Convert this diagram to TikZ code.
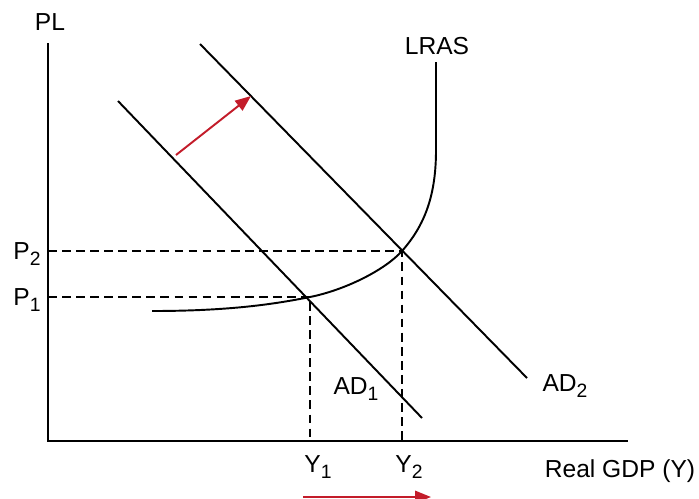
\documentclass[tikz,border=0pt]{standalone}
\usepackage{fontspec}
\setmainfont{Liberation Sans}
\usetikzlibrary{arrows.meta}
\definecolor{shiftred}{RGB}{195,28,42}
\newcommand{\lowidx}[1]{\raisebox{-0.45ex}{\fontsize{11}{12}\selectfont #1}}
\begin{document}
\begin{tikzpicture}[x=0.02cm, y=-0.02cm, every node/.style={font=\fontsize{14}{16}\selectfont, inner sep=0pt},
  axis/.style={line width=1.1pt},
  curve/.style={line width=1.1pt},
  guide/.style={line width=0.6pt, dash pattern=on 5pt off 3pt},
  shiftarrow/.style={shiftred, line width=1.1pt, -{Triangle[length=9pt, width=7pt]}}]
\useasboundingbox (0,0) rectangle (699,498);
% axes
\coordinate (o) at (48,441);
\coordinate (ytop) at (48,43);
\coordinate (xend) at (628,441);
\draw[axis] (ytop) -- (o) -- (xend);
\node (pl) at (50,22) {PL};
\node (gdp) at (620,471) {Real GDP (Y)};
% equilibria
\coordinate (e1) at (310,297);
\coordinate (e2) at (402,251);
\draw[guide] (o |- e1) -- (e1) -- (e1 |- o);
\draw[guide] (o |- e2) -- (e2) -- (e2 |- o);
\node (p1) at (27,300) {P\lowidx{1}};
\node (p2) at (27,254) {P\lowidx{2}};
\node (y1) at (318,467) {Y\lowidx{1}};
\node (y2) at (409,467) {Y\lowidx{2}};
% LRAS
\draw[curve] (152,311) .. controls (230,311) and (275,304) .. (e1)
  .. controls (345,290) and (385,270) .. (e2)
  .. controls (425,225) and (436,195) .. (436,150) -- (436,62);
\node (lras) at (437,46) {LRAS};
% AD curves
\coordinate (ad1a) at (118,101);
\coordinate (ad1b) at (422,418);
\coordinate (ad2a) at (200,44);
\coordinate (ad2b) at (527,378);
\draw[curve] (ad1a) -- (ad1b);
\draw[curve] (ad2a) -- (ad2b);
\node (ad1) at (356,389) {AD\lowidx{1}};
\node (ad2) at (565,386) {AD\lowidx{2}};
% shifts
\coordinate (s1) at (176,155);
\coordinate (s2) at (251,96);
\draw[shiftarrow] (s1) -- (s2);
\coordinate (t1) at (303,497);
\coordinate (t2) at (431,497);
\draw[shiftarrow] (t1) -- (t2);
\end{tikzpicture}
\end{document}
